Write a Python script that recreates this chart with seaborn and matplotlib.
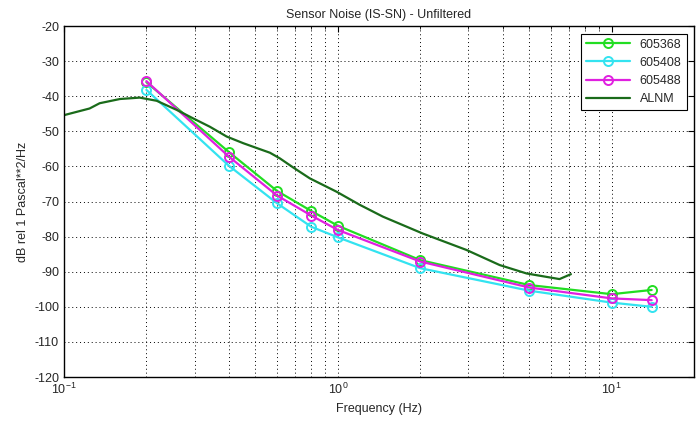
import numpy as np
import pandas as pd
import matplotlib
matplotlib.use("Agg")
import matplotlib.pyplot as plt
import seaborn as sns

freq = [0.2, 0.4, 0.6, 0.8, 1.0, 2.0, 5.0, 10.0, 14.0]
s605368 = [-36.0, -55.9, -67.0, -72.7, -76.9, -86.7, -93.8, -96.4, -95.2]
s605408 = [-38.2, -59.8, -70.5, -77.2, -80.2, -89.0, -95.4, -98.8, -100.0]
s605488 = [-35.7, -57.2, -68.3, -74.0, -78.1, -87.1, -94.5, -97.6, -98.1]

alnm_f = [0.1, 0.124, 0.135, 0.16, 0.189, 0.218, 0.258, 0.296, 0.341, 0.393,
          0.452, 0.52, 0.565, 0.614, 0.687, 0.79, 0.989, 1.2, 1.46, 2.04,
          2.95, 3.9, 4.89, 6.45, 7.1]
alnm_v = [-45.4, -43.5, -42.0, -40.8, -40.4, -41.3, -43.9, -46.3, -48.7, -51.5,
          -53.4, -55.1, -56.1, -57.7, -60.3, -63.4, -67.2, -70.9, -74.3, -79.1,
          -83.8, -88.1, -90.5, -92.1, -90.7]

labels = ["605368", "605408", "605488"]
colors = ["#22dd22", "#33e3f0", "#e020e0"]
alnm_color = "#1a6b1a"

sns.set_style("white")
plt.rcParams['font.family'] = ['Liberation Sans', 'DejaVu Sans']
plt.rcParams['mathtext.fontset'] = 'custom'
plt.rcParams['mathtext.rm'] = 'Liberation Sans'
plt.rcParams['axes.unicode_minus'] = False

fig = plt.figure(figsize=(6.97, 4.25), dpi=100)
ax = fig.add_axes([0.0918, 0.1129, 0.9040, 0.8259])

for lab, vals, col in zip(labels, [s605368, s605408, s605488], colors):
    df = pd.DataFrame({"f": freq, "v": vals})
    sns.lineplot(data=df, x="f", y="v", ax=ax, color=col, lw=1.6,
                 marker="o", markersize=6.5, markerfacecolor="none",
                 markeredgecolor=col, markeredgewidth=1.4, label=lab)

dfa = pd.DataFrame({"f": alnm_f, "v": alnm_v})
sns.lineplot(data=dfa, x="f", y="v", ax=ax, color=alnm_color, lw=1.6, label="ALNM")

ax.set_xscale("log")
ax.set_xlim(0.1, 20)
ax.set_ylim(-120, -20)
ax.set_yticks(np.arange(-120, -19, 10))
ax.grid(True, which="both", axis="x", color="black", linestyle=(0, (1, 3)), lw=0.7)
ax.grid(True, which="major", axis="y", color="black", linestyle=(0, (1, 3)), lw=0.7)
ax.tick_params(which="both", direction="in", top=True, right=True, labelsize=9,
               length=4, color="black")
ax.tick_params(which="minor", length=2)
for sp in ax.spines.values():
    sp.set_visible(True)
    sp.set_color("black")
    sp.set_linewidth(1.0)

ax.set_title("Sensor Noise (IS-SN) - Unfiltered", fontsize=9)
ax.set_xlabel("Frequency (Hz)", fontsize=9)
ax.set_ylabel("dB rel 1 Pascal**2/Hz", fontsize=9)

leg = ax.legend(loc="upper right", fontsize=9, numpoints=1, fancybox=False,
                framealpha=1, edgecolor="black", handlelength=3.5,
                borderaxespad=0.6)
leg.get_frame().set_linewidth(0.8)

fig.savefig("out.png", dpi=100)
